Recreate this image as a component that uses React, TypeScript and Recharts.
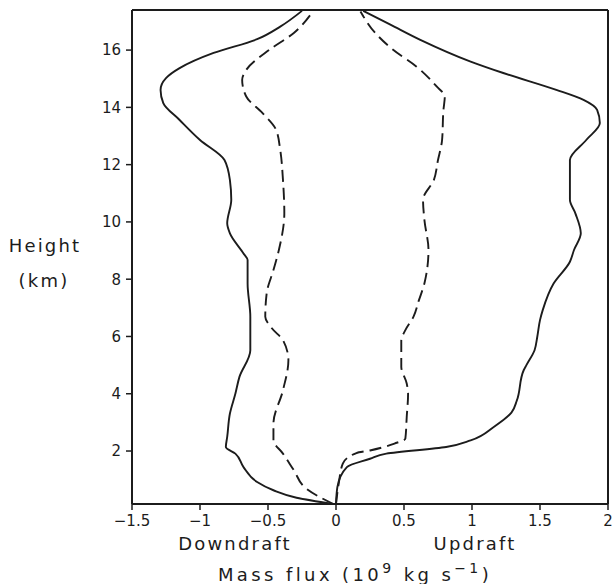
import { Label, ReferenceLine, Scatter, ScatterChart, XAxis, YAxis } from "recharts";

// height (km) / mass flux (10^9 kg s^-1)
const downSolidH = [0.15, 0.37, 0.63, 0.92, 1.44, 1.91, 2.14, 2.49, 3.31, 4.0, 4.59, 5.52, 6.69, 7.85, 8.67, 8.9, 9.6, 9.95, 10.77, 11.46, 12.16, 12.86, 13.56, 14.15, 14.61, 15.02, 15.37, 15.9, 16.38, 16.82, 17.37];
const downSolidX = [-0.02, -0.29, -0.46, -0.58, -0.68, -0.74, -0.81, -0.8, -0.78, -0.74, -0.71, -0.63, -0.63, -0.65, -0.65, -0.68, -0.78, -0.8, -0.77, -0.78, -0.82, -1.0, -1.15, -1.27, -1.29, -1.25, -1.15, -0.9, -0.58, -0.41, -0.25];

const downDashH = [0.15, 0.69, 1.33, 1.91, 2.37, 2.96, 4.12, 5.17, 5.87, 6.28, 6.69, 7.5, 8.32, 9.02, 10.3, 11.47, 12.51, 13.21, 13.8, 14.38, 14.96, 15.31, 16.01, 16.6, 17.35];
const downDashX = [-0.02, -0.22, -0.31, -0.39, -0.46, -0.46, -0.39, -0.35, -0.39, -0.47, -0.52, -0.51, -0.46, -0.42, -0.38, -0.39, -0.41, -0.44, -0.54, -0.66, -0.69, -0.66, -0.49, -0.31, -0.17];

const upSolidH = [0.15, 0.74, 1.44, 1.73, 1.91, 2.14, 2.37, 2.84, 3.34, 3.77, 4.82, 5.0, 5.52, 5.99, 6.57, 6.92, 7.85, 8.61, 9.02, 9.6, 10.3, 10.77, 11.7, 12.16, 12.86, 13.45, 13.91, 14.26, 14.61, 15.2, 15.6, 16.36, 16.89, 17.37];
const upSolidX = [0.0, 0.01, 0.08, 0.25, 0.37, 0.81, 0.99, 1.16, 1.29, 1.33, 1.38, 1.4, 1.46, 1.48, 1.5, 1.52, 1.6, 1.72, 1.75, 1.8, 1.76, 1.72, 1.72, 1.72, 1.84, 1.94, 1.92, 1.82, 1.62, 1.23, 0.99, 0.62, 0.4, 0.2];

const upDashH = [0.15, 0.86, 1.56, 1.93, 2.02, 2.26, 2.43, 3.19, 4.0, 4.36, 4.94, 5.87, 6.22, 6.69, 7.27, 7.85, 9.02, 10.07, 10.77, 11.47, 12.16, 12.86, 13.91, 14.38, 14.73, 15.43, 16.01, 16.59, 17.35];
const upDashX = [0.0, 0.02, 0.05, 0.15, 0.25, 0.43, 0.51, 0.52, 0.53, 0.52, 0.48, 0.48, 0.51, 0.57, 0.61, 0.65, 0.68, 0.65, 0.64, 0.72, 0.75, 0.78, 0.79, 0.8, 0.74, 0.59, 0.42, 0.29, 0.18];

const xTicks = [-1.5, -1, -0.5, 0, 0.5, 1, 1.5, 2];
const yTicks = [2, 4, 6, 8, 10, 12, 14, 16];
const xRange = [-1.5, 2];
const hRange = [0.15, 17.4];

const profile = (hs: number[], xs: number[]) => hs.map((h, i) => ({ x: xs[i], h }));

const INK = "#1c1c1c";
const FONT = "DejaVu Sans";
const tickStyle = { fill: INK, fontSize: 15, fontFamily: FONT };
const minus = (v: number) => String(v).replace("-", "\u2212");
const noDot = () => <g />;

function Captions() {
  const t = { fill: INK, fontSize: 18, fontFamily: FONT, letterSpacing: 2.2 };
  return (
    <g>
      <text x={45} y={252} textAnchor="middle" {...t}>Height</text>
      <text x={44} y={287} textAnchor="middle" {...t}>(km)</text>
      <text x={235} y={550} textAnchor="middle" {...t}>Downdraft</text>
      <text x={475} y={550} textAnchor="middle" {...t}>Updraft</text>
      <text x={355} y={581} textAnchor="middle" {...t} letterSpacing={3.4}>
        Mass flux (10
        <tspan dy={-8} fontSize={14}>9</tspan>
        <tspan dy={8}> kg s</tspan>
        <tspan dy={-8} fontSize={14}>{"\u22121"}</tspan>
        <tspan dy={8}>)</tspan>
      </text>
    </g>
  );
}

export default function App() {
  const lineSolid = { stroke: INK, strokeWidth: 1.9 };
  const lineDash = { stroke: INK, strokeWidth: 1.9, strokeDasharray: "12 6" };
  const frame = { stroke: INK, strokeWidth: 2 };
  return (
    <div style={{ position: "absolute", left: 0, top: 0, background: "#fff" }}>
      <ScatterChart width={615} height={584} margin={{ top: 10, right: 7, bottom: 50, left: 0 }}>
        <XAxis
          type="number"
          dataKey="x"
          domain={xRange}
          ticks={xTicks}
          tickFormatter={minus}
          tick={tickStyle}
          tickSize={6}
          tickMargin={5}
          height={30}
          axisLine={frame}
          tickLine={{ stroke: INK, strokeWidth: 1.5 }}
          allowDataOverflow
        >
          <Label content={() => <Captions />} />
        </XAxis>
        <YAxis
          type="number"
          dataKey="h"
          domain={hRange}
          ticks={yTicks}
          tick={tickStyle}
          tickSize={6}
          tickMargin={5}
          width={132}
          axisLine={frame}
          tickLine={{ stroke: INK, strokeWidth: 1.5 }}
          allowDataOverflow
        />
        <ReferenceLine x={xRange[1]} {...frame} />
        <ReferenceLine y={hRange[1]} {...frame} />
        <Scatter data={profile(downSolidH, downSolidX)} line={lineSolid} lineJointType="monotoneY" shape={noDot} fill={INK} isAnimationActive={false} />
        <Scatter data={profile(downDashH, downDashX)} line={lineDash} lineJointType="monotoneY" shape={noDot} fill={INK} isAnimationActive={false} />
        <Scatter data={profile(upDashH, upDashX)} line={lineDash} lineJointType="monotoneY" shape={noDot} fill={INK} isAnimationActive={false} />
        <Scatter data={profile(upSolidH, upSolidX)} line={lineSolid} lineJointType="monotoneY" shape={noDot} fill={INK} isAnimationActive={false} />
      </ScatterChart>
    </div>
  );
}
